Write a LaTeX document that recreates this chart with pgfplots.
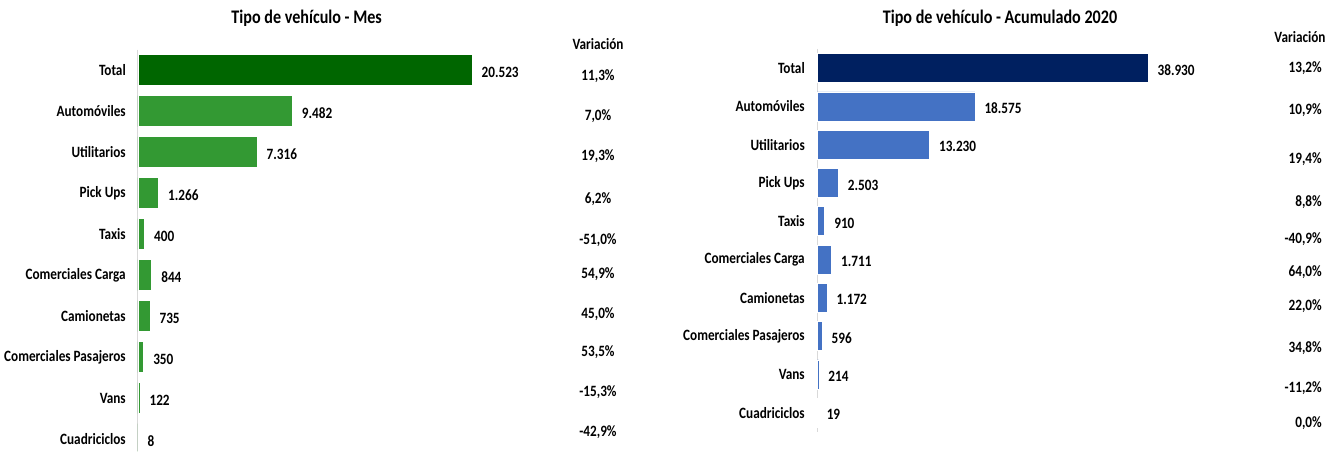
\documentclass[border=0pt]{standalone}
\usepackage{fontspec}
\setmainfont{Carlito}
\newfontfamily\cond[FakeStretch=0.84]{Carlito}
\usepackage{pgfplots}
\pgfplotsset{compat=1.18}
\usepackage{pgfplotstable}

\definecolor{mesTotal}{HTML}{006600}
\definecolor{mesBar}{HTML}{339933}
\definecolor{acuTotal}{HTML}{002060}
\definecolor{acuBar}{HTML}{4472C4}
\definecolor{axgray}{HTML}{D9D9D9}

\newcommand{\lbl}{\cond\fontsize{11.8}{13}\selectfont\bfseries}
\newcommand{\ttl}{\cond\fontsize{14.4}{16}\selectfont\bfseries}

% Mes
\pgfplotstableread{
y val
0 20523
}\tabMesTot
\pgfplotstableread{
y val
1 9482
2 7316
3 1266
4 400
5 844
6 735
7 350
8 122
9 8
}\tabMes
\pgfplotstableread{
x y lab
28265 0.15 11,3
28265 1.12 7,0
28265 2.10 19,3
28265 3.15 6,2
28265 4.15 -51,0
28265 4.98 54,9
28265 5.95 45,0
28265 6.89 53,5
28265 7.85 -15,3
28265 8.83 -42,9
}\tabMesVar

% Acumulado 2020
\pgfplotstableread{
y val
0 38930
}\tabAcuTot
\pgfplotstableread{
y val
1 18575
2 13230
3 2503
4 910
5 1711
6 1172
7 596
8 214
9 19
}\tabAcu
\pgfplotstableread{
x y lab
59395 0.00 13,2
59395 1.10 10,9
59395 2.38 19,4
59395 3.50 8,8
59395 4.46 -40,9
59395 5.33 64,0
59395 6.21 22,0
59395 7.31 34,8
59395 8.36 -11,2
59395 9.27 0,0
}\tabAcuVar

\pgfplotsset{
  panel/.style={
    scale only axis,
    y dir=reverse,
    xmin=0,
    ytick={0,...,9},
    yticklabels={Total,Automóviles,Utilitarios,Pick Ups,Taxis,Comerciales Carga,Camionetas,Comerciales Pasajeros,Vans,Cuadriciclos},
    axis y line*=left,
    hide x axis,
    axis line style={axgray, line width=0.75pt},
    major tick length=0pt,
    ytick style={draw=none},
    yticklabel style={font=\lbl, inner sep=0pt, xshift=-9pt},
    clip=false,
  },
  barlbl/.style={
    nodes near coords={\pgfmathprintnumber[fixed,precision=0,1000 sep={.},assume math mode=true]{\pgfplotspointmeta}},
    point meta=x,
    nodes near coords style={font=\lbl, anchor=west, inner sep=0pt, xshift=7pt, yshift=-1.5pt},
  },
  varlbl/.style={
    draw=none, mark=none,
    nodes near coords={\pgfplotspointmeta\%},
    point meta=explicit symbolic,
    nodes near coords style={font=\lbl, inner sep=0pt, anchor=#1},
  },
}

\begin{document}
\begin{tikzpicture}
\path[use as bounding box] (0,0) rectangle (1000.5pt,338.25pt);

\node[font=\ttl] at (230pt,324.75pt) {Tipo de vehículo - Mes};
\node[font=\ttl] at (750pt,324.75pt) {Tipo de vehículo - Acumulado 2020};

% Mes
\begin{axis}[panel,
  at={(103.5pt,301.125pt)}, anchor=north west,
  width=378.4pt, height=301.35pt,
  xmax=31000, ymin=-0.5, ymax=9.3,
]
\addplot[xbar, bar shift=0pt, bar width=23.25pt, fill=mesTotal, draw=white, line width=0.4pt, barlbl]
  table[x=val, y=y] {\tabMesTot};
\addplot[xbar, bar shift=0pt, bar width=23.25pt, fill=mesBar, draw=white, line width=0.4pt, barlbl]
  table[x=val, y=y] {\tabMes};
\addplot[varlbl=center] table[x=x, y=y, meta=lab] {\tabMesVar};
\node[font=\lbl] at (axis cs:28265,-0.63) {Variación};
\end{axis}

% Acumulado 2020
\begin{axis}[panel,
  at={(612.75pt,301.6pt)}, anchor=north west,
  width=382.6pt, height=287.25pt,
  xmax=60000, ymin=-0.5, ymax=9.5,
]
\addplot[xbar, bar shift=0pt, bar width=21.75pt, fill=acuTotal, draw=white, line width=0.4pt, barlbl]
  table[x=val, y=y] {\tabAcuTot};
\addplot[xbar, bar shift=0pt, bar width=21.75pt, fill=acuBar, draw=white, line width=0.4pt, barlbl]
  table[x=val, y=y] {\tabAcu};
\addplot[varlbl=east] table[x=x, y=y, meta=lab] {\tabAcuVar};
\node[font=\lbl] at (axis cs:56807,-0.81) {Variación};
\end{axis}
\end{tikzpicture}
\end{document}
